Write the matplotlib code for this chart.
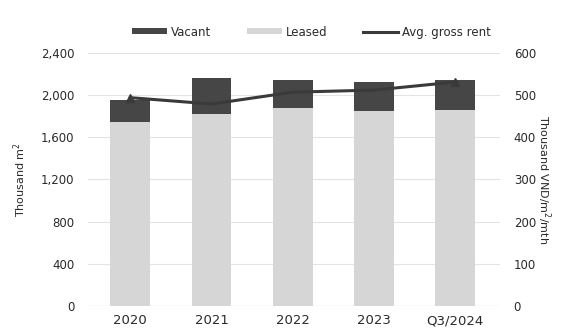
import matplotlib
matplotlib.use("Agg")
import matplotlib.pyplot as plt
from matplotlib.lines import Line2D
from matplotlib.patches import Patch

categories = ["2020", "2021", "2022", "2023", "Q3/2024"]
leased = [1745, 1825, 1878, 1846, 1862]
vacant = [205, 340, 268, 281, 277]
avg_rent = [494, 479, 507, 512, 531]

plt.rcParams["font.family"] = ["DejaVu Sans"]

DARK = "#464646"
LIGHT = "#d6d6d6"
TEXT = "#2a2a2a"

fig = plt.figure(figsize=(5.68, 3.31), dpi=100)
ax = fig.add_axes([0.155, 0.0755, 0.725, 0.7645])
ax2 = ax.twinx()

x = list(range(len(categories)))
ax.bar(x, leased, width=0.49, color=LIGHT, zorder=2)
ax.bar(x, vacant, width=0.49, bottom=leased, color=DARK, zorder=2)

ax.set_ylim(0, 2400)
ax.set_yticks(range(0, 2401, 400))
ax.set_yticklabels([f"{v:,}" for v in range(0, 2401, 400)])
ax.set_xlim(-0.52, 4.55)
ax.set_xticks(x)
ax.set_xticklabels(categories)
ax.grid(axis="y", color="#e3e3e3", linewidth=0.8, zorder=0)
ax.set_axisbelow(True)

ax2.plot(x, avg_rent, color="#3a3a3a", linewidth=2.2, marker="^",
         markersize=6, markevery=[0, 4], zorder=3)
ax2.set_ylim(0, 600)
ax2.set_yticks(range(0, 601, 100))

for a in (ax, ax2):
    for s in a.spines.values():
        s.set_visible(False)
    a.tick_params(length=0, labelsize=8.5, colors=TEXT)
ax.tick_params(axis="y", pad=10)
ax.tick_params(axis="x", pad=6, labelsize=9.5)
ax2.tick_params(axis="y", pad=10)
ax.axhline(0, color="#bdbdbd", linewidth=0.8, linestyle=(0, (2, 1)), zorder=1)

ax.set_ylabel("Thousand m$^2$", fontsize=8, color=TEXT, labelpad=9)
ax2.set_ylabel("Thousand VND/m$^2$/mth", fontsize=8, color=TEXT,
               rotation=270, labelpad=12)

handles = [
    Patch(facecolor=DARK, label="Vacant"),
    Patch(facecolor=LIGHT, label="Leased"),
    Line2D([0], [0], color="#3a3a3a", linewidth=2.2, label="Avg. gross rent"),
]
fig.legend(handles=handles, loc="center", bbox_to_anchor=(0.548, 0.903),
           ncol=3, frameon=False, fontsize=8.5, handlelength=3.0,
           handleheight=0.4, columnspacing=3.0, handletextpad=0.3,
           labelcolor=TEXT)

fig.savefig("out.png", dpi=100)
